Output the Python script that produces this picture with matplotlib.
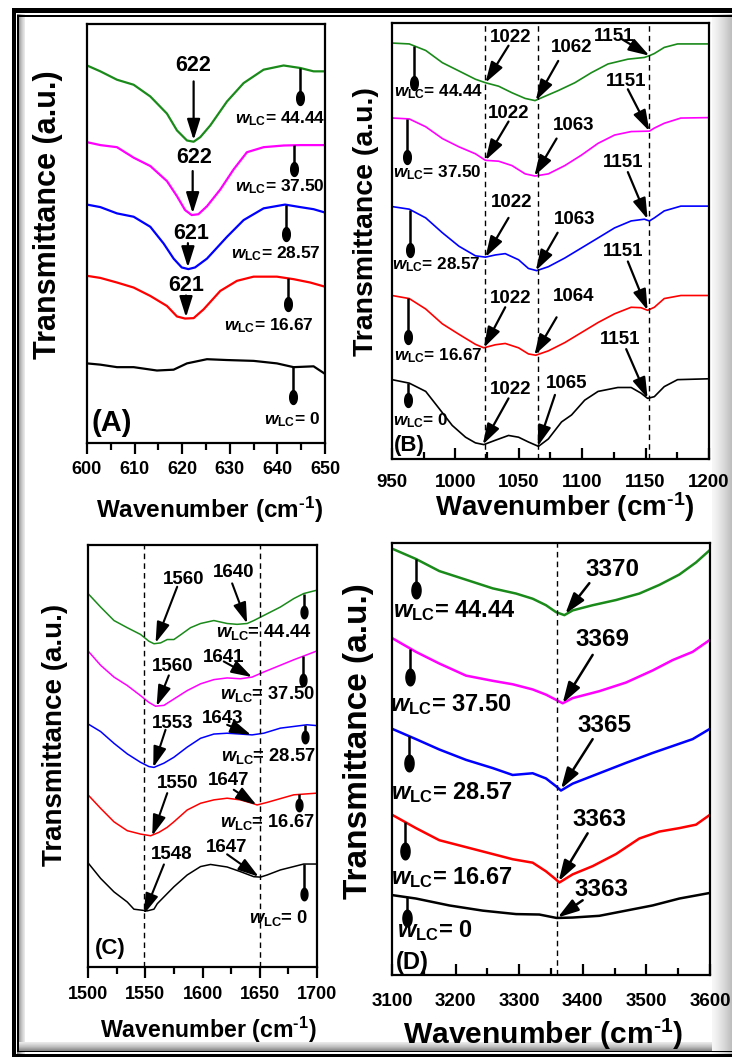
import numpy as np
import matplotlib
matplotlib.use('Agg')
import matplotlib.pyplot as plt
from matplotlib.patches import Rectangle

plt.rcParams['font.family'] = ['Liberation Sans', 'DejaVu Sans']
plt.rcParams['font.weight'] = 'bold'
plt.rcParams['mathtext.fontset'] = 'custom'
plt.rcParams['mathtext.it'] = 'Liberation Sans:italic:bold'
plt.rcParams['mathtext.rm'] = 'Liberation Sans:bold'
plt.rcParams['mathtext.bf'] = 'Liberation Sans:bold'

W, H = 732, 1057
W_LC = ['0', '16.67', '28.57', '37.50', '44.44']
COLORS = ['black', 'red', '#0000ff', '#ff00ff', '#1a8a1a']

# ---------------- (A) 600-650 cm-1 ----------------
a_black_x = [600.0, 602.8, 606.3, 609.8, 614.7, 618.2, 621.0, 625.2, 629.4, 635.0, 639.9, 643.4, 647.6, 650.0]
a_black_y = [19.0, 18.7, 18.1, 18.1, 17.3, 17.5, 19.0, 20.0, 19.8, 19.6, 19.0, 18.1, 18.3, 16.5]
a_red_x = [600.0, 602.8, 606.3, 609.8, 613.3, 616.8, 618.9, 620.6, 622.4, 624.5, 628.0, 631.5, 635.0, 639.9, 643.4, 646.9, 650.0]
a_red_y = [39.9, 39.4, 38.3, 37.1, 35.1, 32.7, 30.2, 29.7, 29.8, 31.9, 36.3, 38.7, 39.7, 39.7, 39.1, 38.3, 37.3]
a_blue_x = [600.0, 602.8, 606.3, 609.8, 613.3, 616.1, 618.2, 619.9, 621.3, 622.7, 625.2, 629.4, 632.9, 637.1, 641.6, 644.8, 647.6, 650.0]
a_blue_y = [56.9, 56.3, 54.8, 54.0, 51.6, 47.6, 44.0, 41.9, 41.5, 41.9, 44.0, 49.2, 53.2, 56.0, 56.9, 56.3, 55.8, 55.0]
a_mag_x = [600.0, 602.8, 606.3, 609.8, 613.3, 616.8, 618.9, 620.6, 622.0, 623.4, 625.2, 628.0, 630.8, 633.6, 637.1, 641.3, 644.8, 650.0]
a_mag_y = [71.8, 71.1, 70.6, 68.1, 66.1, 62.5, 58.9, 55.6, 54.4, 54.6, 56.5, 60.5, 65.3, 69.4, 70.6, 71.0, 71.1, 71.1]
a_green_x = [600.0, 602.8, 606.3, 609.8, 613.3, 616.8, 618.9, 621.0, 622.4, 623.8, 625.9, 629.4, 632.9, 637.1, 641.3, 644.8, 647.6, 650.0]
a_green_y = [90.1, 88.7, 86.7, 85.5, 82.7, 78.6, 74.6, 72.2, 71.9, 73.0, 75.8, 81.5, 85.9, 89.1, 90.1, 89.5, 88.7, 88.7]

# ---------------- (B) 950-1200 cm-1 ----------------
b_black_x = [950, 963.6, 976.6, 987.1, 997.5, 1008.0, 1015.8, 1022.4, 1031.5, 1041.9, 1049.8, 1057.6, 1065.5,
             1073.3, 1083.7, 1091.6, 1102.0, 1112.5, 1128.1, 1138.6, 1146.4, 1151.6, 1156.9, 1164.7, 1175.2, 1200]
b_black_y = [18.2, 17.4, 15.5, 11.6, 7.7, 5.0, 3.7, 3.3, 4.3, 5.4, 5.0, 3.9, 2.9,
             4.6, 8.5, 10.1, 13.5, 15.5, 16.4, 16.4, 15.1, 13.9, 14.3, 16.6, 18.2, 18.4]
b_red_x = [950, 963.6, 976.6, 989.7, 1002.8, 1015.8, 1022.4, 1031.5, 1039.3, 1049.8, 1057.6, 1063.4,
           1073.3, 1086.3, 1099.4, 1112.5, 1125.5, 1138.6, 1146.4, 1151.6, 1156.9, 1164.7, 1177.8, 1200]
b_red_y = [37.5, 36.8, 34.4, 31.0, 28.6, 26.3, 25.5, 26.2, 26.5, 25.5, 24.1, 23.8,
           24.8, 26.7, 29.0, 31.3, 33.3, 34.8, 34.7, 34.1, 34.8, 36.8, 37.5, 37.5]
b_blue_x = [950, 963.6, 976.6, 989.7, 1002.8, 1015.8, 1023.7, 1031.5, 1039.3, 1049.8, 1057.6, 1064.1,
            1073.3, 1086.3, 1099.4, 1112.5, 1125.5, 1138.6, 1149.0, 1153.0, 1156.9, 1164.7, 1177.8, 1200]
b_blue_y = [57.9, 57.3, 55.3, 51.9, 48.8, 46.6, 46.3, 46.8, 47.1, 45.7, 43.7, 43.2,
            44.1, 46.1, 48.4, 50.7, 53.0, 54.6, 55.0, 54.6, 55.3, 56.9, 58.0, 58.0]
b_mag_x = [951, 963.6, 976.6, 989.7, 1002.8, 1015.8, 1023.7, 1034.1, 1044.6, 1055.0, 1062.8,
           1073.3, 1086.3, 1099.4, 1112.5, 1125.5, 1138.6, 1153.0, 1156.9, 1164.7, 1177.8, 1200]
b_mag_y = [78.2, 78.0, 76.2, 73.5, 71.6, 70.0, 68.5, 68.3, 67.3, 65.4, 64.9,
           65.4, 67.3, 69.7, 72.4, 74.3, 75.1, 75.2, 75.9, 77.0, 78.2, 78.3]
b_green_x = [950, 963.6, 976.6, 989.7, 1002.8, 1015.8, 1023.7, 1034.1, 1044.6, 1055.0, 1062.8, 1070.7,
             1081.1, 1094.2, 1107.2, 1120.3, 1136.0, 1149.0, 1153.0, 1156.9, 1164.7, 1175.2, 1185.6, 1200]
b_green_y = [95.4, 95.2, 93.7, 90.9, 89.0, 87.1, 86.3, 85.5, 84.0, 82.7, 82.2, 83.2,
             84.5, 86.3, 88.6, 90.6, 91.7, 92.1, 92.5, 93.0, 94.4, 95.2, 95.2, 95.2]

# ---------------- (C) 1500-1700 cm-1 ----------------
c_black_x = [1500, 1511.0, 1522.7, 1534.3, 1540.1, 1545.9, 1551.7, 1557.6, 1560.5, 1566.3, 1575.0, 1586.6,
             1598.3, 1607.0, 1621.5, 1633.1, 1644.8, 1650.6, 1656.4, 1668.0, 1679.7, 1688.4, 1700]
c_black_y = [24.7, 21.0, 17.8, 15.4, 13.7, 13.5, 13.3, 13.7, 15.0, 16.6, 19.0, 21.8,
             23.8, 24.3, 23.7, 22.6, 21.4, 21.3, 21.8, 23.0, 23.8, 24.4, 24.4]
c_red_x = [1500, 1511.0, 1522.7, 1534.3, 1545.9, 1554.7, 1561.9, 1569.2, 1575.0, 1586.6, 1598.3, 1609.9,
           1621.5, 1633.1, 1643.3, 1647.7, 1656.4, 1668.0, 1679.7, 1700]
c_red_y = [40.8, 37.6, 34.4, 32.3, 31.5, 31.1, 31.9, 33.1, 34.4, 37.2, 38.8, 39.6,
           40.0, 39.6, 38.8, 38.4, 39.0, 39.9, 40.8, 41.2]
c_blue_x = [1500, 1511.0, 1522.7, 1534.3, 1545.9, 1553.2, 1557.6, 1566.3, 1575.0, 1586.6, 1598.3, 1609.9,
            1621.5, 1633.1, 1643.3, 1653.5, 1668.0, 1679.7, 1691.3, 1700]
c_blue_y = [57.6, 55.8, 53.0, 50.5, 48.5, 47.5, 47.3, 48.3, 49.7, 52.1, 54.2, 55.2,
            55.4, 55.2, 55.0, 55.4, 56.6, 57.0, 57.4, 57.2]
c_mag_x = [1500, 1511.0, 1522.7, 1534.3, 1545.9, 1553.2, 1559.0, 1566.3, 1575.0, 1586.6, 1598.3, 1609.9,
           1621.5, 1633.1, 1643.3, 1653.5, 1668.0, 1679.7, 1691.3, 1700]
c_mag_y = [74.9, 71.5, 68.7, 66.7, 64.3, 62.7, 61.8, 62.0, 63.5, 65.5, 67.1, 68.1,
           68.5, 68.3, 68.7, 69.9, 71.5, 72.8, 74.0, 74.9]
c_green_x = [1500, 1511.0, 1522.7, 1534.3, 1545.9, 1553.2, 1557.6, 1563.4, 1569.2, 1575.0, 1580.8, 1589.5,
             1598.3, 1609.9, 1621.5, 1630.2, 1639.0, 1644.8, 1656.4, 1668.0, 1679.7, 1688.4, 1700]
c_green_y = [88.5, 85.3, 82.1, 80.4, 78.8, 77.2, 76.6, 76.8, 77.6, 77.6, 78.7, 80.4,
             81.4, 82.1, 81.4, 81.2, 81.4, 82.1, 83.7, 85.3, 87.3, 88.5, 89.3]

# ---------------- (D) 3100-3600 cm-1 ----------------
d_black_x = [3100, 3137.7, 3190.1, 3242.6, 3295.0, 3331.6, 3358.9, 3384.1, 3426.0, 3467.9, 3509.8, 3551.8, 3600]
d_black_y = [18.5, 17.7, 16.1, 14.9, 14.1, 14.0, 13.2, 13.3, 13.7, 14.9, 16.1, 17.7, 19.0]
d_red_x = [3100, 3137.7, 3174.4, 3216.4, 3258.3, 3289.7, 3321.2, 3342.1, 3357.9, 3363.1, 3384.1, 3415.5,
           3452.2, 3488.9, 3520.3, 3551.8, 3578.0, 3600]
d_red_y = [37.1, 34.0, 31.2, 29.6, 28.0, 26.8, 26.0, 24.0, 22.1, 21.4, 23.3, 25.2,
           28.0, 31.6, 33.2, 34.0, 34.8, 37.1]
d_blue_x = [3100, 3137.7, 3174.4, 3216.4, 3258.3, 3289.7, 3321.2, 3342.1, 3357.9, 3365.7, 3384.1, 3426.0,
            3467.9, 3509.8, 3541.3, 3572.7, 3600]
d_blue_y = [57.0, 54.6, 52.2, 49.8, 47.9, 46.3, 46.7, 45.5, 43.7, 42.7, 44.3, 46.7,
            49.1, 51.4, 53.0, 54.6, 57.0]
d_mag_x = [3100, 3137.7, 3174.4, 3216.4, 3258.3, 3289.7, 3321.2, 3342.1, 3357.9, 3368.3, 3384.1, 3426.0,
           3467.9, 3509.8, 3541.3, 3572.7, 3600]
d_mag_y = [78.0, 74.8, 72.1, 69.3, 68.1, 67.3, 66.1, 64.9, 63.7, 62.9, 64.1, 65.7,
           67.7, 70.5, 72.9, 74.8, 77.6]
d_green_x = [3100, 3137.7, 3174.4, 3216.4, 3258.3, 3295.0, 3321.2, 3342.1, 3357.9, 3371.0, 3384.1, 3415.5,
             3452.2, 3488.9, 3520.3, 3551.8, 3578.0, 3600]
d_green_y = [98.7, 96.3, 93.5, 91.5, 89.5, 88.3, 87.1, 85.6, 84.0, 83.3, 84.4, 85.6,
             86.8, 88.3, 90.3, 92.7, 95.5, 98.4]

# peak labels: text, text x, text y, arrow tail x, y, arrow head x, y
a_peaks = [('622', 622.4, 90.2, 622.4, 86.3, 622.4, 72.3),
           ('622', 622.5, 68.1, 622.2, 64.9, 622.2, 54.8),
           ('621', 621.9, 50.0, 621.2, 47.7, 621.2, 41.9),
           ('621', 620.8, 37.5, 620.8, 35.2, 620.8, 30.0)]
b_peaks = [('1022', 1043.3, 96.6, 1041.9, 94.8, 1023.7, 86.3),
           ('1062', 1091.6, 94.4, 1081.1, 91.3, 1063.4, 82.2),
           ('1151', 1125.5, 96.9, 1130.7, 96.4, 1153.0, 92.5),
           ('1022', 1041.9, 79.3, 1041.9, 77.4, 1023.7, 68.5),
           ('1063', 1092.9, 76.6, 1079.8, 73.5, 1062.3, 64.9),
           ('1151', 1134.7, 86.5, 1136.0, 84.8, 1153.0, 75.2),
           ('1022', 1044.6, 58.8, 1041.9, 55.3, 1023.7, 46.3),
           ('1063', 1094.2, 55.0, 1080.6, 51.9, 1063.4, 43.2),
           ('1151', 1132.1, 68.1, 1136.0, 65.8, 1151.6, 55.0),
           ('1022', 1043.3, 36.8, 1039.3, 34.8, 1022.4, 25.5),
           ('1064', 1092.9, 37.2, 1079.8, 32.5, 1062.3, 23.8),
           ('1151', 1132.1, 47.6, 1136.0, 45.3, 1151.6, 34.1),
           ('1022', 1043.3, 15.9, 1041.9, 13.9, 1021.6, 3.3),
           ('1065', 1087.7, 17.4, 1078.5, 14.7, 1064.9, 2.9),
           ('1151', 1130.2, 27.5, 1134.7, 25.2, 1151.6, 13.9)]
c_peaks = [('1560', 1583.7, 91.8, 1577.9, 90.1, 1559.0, 76.8),
           ('1640', 1627.3, 93.4, 1625.9, 90.9, 1639.0, 81.4),
           ('1560', 1573.5, 71.1, 1570.6, 69.1, 1559.9, 61.8),
           ('1641', 1618.6, 73.3, 1618.6, 72.4, 1643.3, 68.7),
           ('1553', 1573.5, 57.8, 1567.7, 56.2, 1557.0, 47.3),
           ('1643', 1617.2, 58.8, 1621.5, 57.4, 1642.4, 55.0),
           ('1550', 1577.9, 43.4, 1569.2, 41.2, 1556.1, 31.1),
           ('1647', 1623.0, 44.1, 1627.3, 42.0, 1647.1, 38.4),
           ('1548', 1572.7, 26.7, 1566.3, 24.3, 1548.8, 12.5),
           ('1647', 1620.9, 28.3, 1621.5, 26.7, 1649.1, 21.4)]
d_peaks = [('3370', 3447.0, 93.9, 3410.3, 90.7, 3372.5, 83.6),
           ('3369', 3431.2, 77.6, 3415.5, 74.1, 3368.3, 62.9),
           ('3365', 3433.9, 57.8, 3415.5, 54.6, 3365.7, 43.1),
           ('3363', 3426.0, 36.0, 3407.6, 32.8, 3362.0, 21.7),
           ('3363', 3428.6, 19.7, 3399.8, 17.3, 3360.5, 13.3)]

# pins (x, ellipse y) and w_LC label centres, order wLC = 0 ... 44.44
a_pins = [(643.2, 10.9), (642.3, 33.1), (641.8, 50.0), (643.4, 65.3), (644.8, 82.3)]
a_labels = [(643.0, 5.6), (638.3, 28.1), (639.7, 45.3), (640.5, 61.3), (640.6, 77.4)]
b_pins = [(962.3, 13.5), (962.3, 27.9), (964.4, 48.0), (961.5, 69.3), (967.5, 86.3)]
b_labels = [(972.7, 8.9), (986.6, 23.6), (985.0, 44.5), (985.8, 65.6), (987.1, 84.2)]
c_pins = [(1688.4, 17.4), (1684.0, 38.4), (1689.8, 54.6), (1687.8, 67.9), (1688.4, 84.1)]
c_labels = [(1666.6, 11.7), (1656.4, 34.4), (1657.8, 50.1), (1656.4, 64.7), (1653.5, 79.5)]
d_pins = [(3123.1, 13.3), (3121.0, 28.8), (3127.3, 49.1), (3128.8, 68.9), (3137.7, 89.1)]
d_labels = [(3166.6, 10.2), (3194.3, 22.5), (3194.3, 42.3), (3192.8, 62.5), (3198.0, 84.4)]

ELLIPSE = [(0.55 * np.cos(t), np.sin(t)) for t in np.linspace(0, 2 * np.pi, 41)]
XLABEL = 'Wavenumber (cm$^{\u2010\\mathrm{1}}$)'

fig = plt.figure(figsize=(W / 100, H / 100), dpi=100)

# frame with shadow
deco = fig.add_axes([0, 0, 1, 1], zorder=-1)
deco.set_xlim(0, W)
deco.set_ylim(H, 0)
deco.axis('off')
grad = np.linspace(0, 1, 64)
deco.imshow(grad[None, :], cmap='Greys', vmin=-0.2, vmax=3.0, extent=(712, W, H, 14), aspect='auto')
deco.imshow(grad[::-1][None, :], cmap='Greys', vmin=-0.3, vmax=1.8, extent=(17, 25, H, 14), aspect='auto')
deco.imshow(grad[:, None], cmap='Greys', vmin=-0.3, vmax=1.8, extent=(17, 712, 1052, 1042), aspect='auto')
for r in [(12, 8, W - 12, 5), (12, 8, 4, H - 8), (12, 1054, W - 12, 3),
          (17, 15, W - 17, 1.5), (17, 15, 1.5, 1037), (17, 1050.5, W - 17, 1.5)]:
    deco.add_patch(Rectangle(r[:2], r[2], r[3], color='black', lw=0))
deco.set_xlim(0, W)
deco.set_ylim(H, 0)


def px_axes(x0, y0, x1, y1):
    return fig.add_axes([x0 / W, 1 - y1 / H, (x1 - x0) / W, (y1 - y0) / H])


def fig_text(x, y, s, size, rot=0):
    fig.text(x / W, 1 - y / H, s, fontsize=size, fontweight='bold', rotation=rot,
             ha='center', va='center')


def panel(ax, curves, xlim, major, minor, lw, tick_dir, tick_size, pad,
          peaks, num_size, arrow_lw, pins, labels, lab_size, pin_ms, vlines, tag, tag_xy, tag_size):
    for (xs, ys), c in zip(curves, COLORS):
        ax.plot(xs, ys, color=c, lw=lw, solid_joinstyle='round')
    for v in vlines:
        ax.axvline(v, color='black', lw=1.0, ls=(0, (4, 3)))
    for s, tx, ty, ax0, ay0, hx, hy in peaks:
        ax.text(tx, ty, s, fontsize=num_size, fontweight='bold', ha='center', va='center')
        ax.annotate('', xy=(hx, hy), xytext=(ax0, ay0),
                    arrowprops=dict(arrowstyle='-|>,head_length=0.7,head_width=0.22', color='black',
                                    lw=arrow_lw, shrinkA=0, shrinkB=0, mutation_scale=18))
    for (xs, ys), (px, py), (lx, ly), w in zip(curves, pins, labels, W_LC):
        top = np.interp(px, xs, ys)
        ax.plot([px, px], [top, py], color='black', lw=1.8, solid_capstyle='butt')
        ax.plot([px], [py], marker=ELLIPSE, ms=pin_ms, color='black')
        ax.text(lx, ly, r'$w_{\mathrm{LC}}$= ' + w, fontsize=lab_size, fontweight='bold',
                ha='center', va='center')
    ax.text(tag_xy[0], tag_xy[1], tag, fontsize=tag_size, fontweight='bold', ha='center', va='center')
    ax.set_xlim(*xlim)
    ax.set_ylim(0, 100)
    ax.set_yticks([])
    ax.set_xticks(np.arange(xlim[0], xlim[1] + 1, major))
    ax.set_xticks(np.arange(xlim[0], xlim[1] + 1, minor), minor=True)
    ax.tick_params(axis='x', which='major', direction=tick_dir, length=8, width=1.6,
                   labelsize=tick_size, pad=pad)
    ax.tick_params(axis='x', which='minor', direction=tick_dir, length=5, width=1.6)
    for sp in ax.spines.values():
        sp.set_linewidth(1.6)


ax_a = px_axes(87, 24, 325, 443)
panel(ax_a, [(a_black_x, a_black_y), (a_red_x, a_red_y), (a_blue_x, a_blue_y),
             (a_mag_x, a_mag_y), (a_green_x, a_green_y)],
      (600, 650), 10, 5, 1.6, 'out', 13, 5, a_peaks, 15.5, 1.6, a_pins, a_labels, 12.5, 10, [],
      '(A)', (605.2, 4.8), 21)

ax_b = px_axes(392, 23, 709, 459)
panel(ax_b, [(b_black_x, b_black_y), (b_red_x, b_red_y), (b_blue_x, b_blue_y),
             (b_mag_x, b_mag_y), (b_green_x, b_green_y)],
      (950, 1200), 50, 25, 1.2, 'in', 13.5, 11, b_peaks, 13.5, 1.6, b_pins, b_labels, 12.3, 10,
      [1023, 1065.5, 1153], '(B)', (963.6, 3.1), 16)

ax_c = px_axes(88, 545, 317, 967)
panel(ax_c, [(c_black_x, c_black_y), (c_red_x, c_red_y), (c_blue_x, c_blue_y),
             (c_mag_x, c_mag_y), (c_green_x, c_green_y)],
      (1500, 1700), 50, 25, 1.1, 'out', 13, 6, c_peaks, 13.5, 1.5, c_pins, c_labels, 13.2, 9,
      [1549, 1650], '(C)', (1519.8, 4.4), 16)

ax_d = px_axes(392, 543, 710, 975)
panel(ax_d, [(d_black_x, d_black_y), (d_red_x, d_red_y), (d_blue_x, d_blue_y),
             (d_mag_x, d_mag_y), (d_green_x, d_green_y)],
      (3100, 3600), 100, 50, 1.8, 'in', 13.5, 13, d_peaks, 17.5, 1.8, d_pins, d_labels, 17, 12,
      [3360], '(D)', (3132.5, 3.0), 17)

# axis titles
fig_text(48, 215, 'Transmittance (a.u.)', 22, 90)
fig_text(366, 222, 'Transmittance (a.u.)', 20.5, 90)
fig_text(55, 735, 'Transmittance (a.u.)', 20, 90)
fig_text(359, 741, 'Transmittance (a.u.)', 24, 90)
fig_text(209, 510, XLABEL, 17.5)
fig_text(565, 507, XLABEL, 20)
fig_text(208, 1030, XLABEL, 16.7)
fig_text(543, 1034, XLABEL, 21.6)

fig.savefig('out.png', dpi=100)
